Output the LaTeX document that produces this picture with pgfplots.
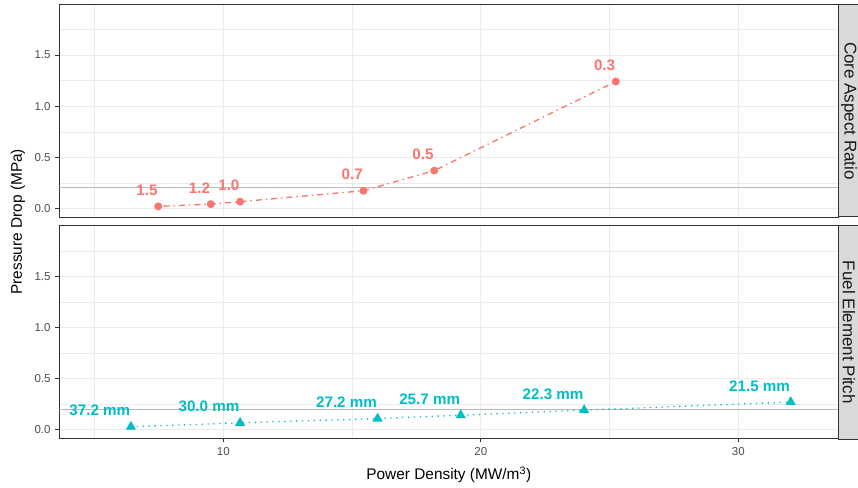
\documentclass[border=0pt]{standalone}
\usepackage{pgfplots}
\pgfplotsset{compat=1.18}
\usepackage{pgfplotstable}
\usepackage{fontspec}
\setmainfont{Liberation Sans}

\definecolor{redl}{HTML}{F8766D}
\definecolor{cyanl}{HTML}{00BFC4}
\definecolor{gray92}{HTML}{EBEBEB}
\definecolor{gray85}{HTML}{D9D9D9}
\definecolor{gray30}{HTML}{4D4D4D}
\definecolor{gray20}{HTML}{333333}
\definecolor{gray10}{HTML}{1A1A1A}
\definecolor{hline}{RGB}{185,185,185}

% power density, pressure drop, label
\pgfplotstableread[col sep=comma,row sep=\\]{
x,y,lab\\
7.47,0.020,1.5\\
9.51,0.042,1.2\\
10.65,0.066,1.0\\
15.44,0.173,0.7\\
18.19,0.370,0.5\\
25.24,1.242,0.3\\
}\coreratio
\pgfplotstableread[col sep=comma,row sep=\\]{
x,y,lab\\
6.41,0.030,37.2 mm\\
10.65,0.068,30.0 mm\\
15.99,0.110,27.2 mm\\
19.22,0.143,25.7 mm\\
24.01,0.193,22.3 mm\\
32.03,0.272,21.5 mm\\
}\pitch

\pgfplotsset{panel/.style={
  scale only axis, width=779bp, height=212.8bp, anchor=north west,
  xmin=3.63, xmax=33.88, ymin=-0.085, ymax=1.997,
  xtick={10,20,30}, minor xtick={5,15,25},
  ytick={0,0.5,1,1.5}, minor ytick={0.25,0.75,1.25,1.75},
  grid=both,
  major grid style={draw=gray92, line width=1bp},
  minor grid style={draw=gray92, line width=0.5bp},
  axis line style={draw=gray20, line width=1bp},
  tick style={draw=gray20, line width=1bp},
  tick align=outside, major tick length=3.8bp, minor tick length=0pt,
  xtick pos=bottom, ytick pos=left,
  tick label style={font=\fontsize{11.5bp}{13bp}\selectfont, text=gray30},
  /pgf/number format/assume math mode=true,
  yticklabel style={/pgf/number format/fixed, /pgf/number format/fixed zerofill,
     /pgf/number format/precision=1},
  yticklabel style={inner sep=0pt, anchor=east, xshift=-4.8bp},
  xticklabel style={inner sep=0pt, anchor=north, yshift=-4.8bp},
},
labelled/.style={
  point meta=explicit symbolic,
  nodes near coords,
  nodes near coords align={anchor=base east},
  every node near coord/.append style={inner sep=0pt, anchor=base east, yshift=11bp,
     font=\fontsize{15.2bp}{17bp}\selectfont\bfseries, text=#1},
}}

\begin{document}
\begin{tikzpicture}
\useasboundingbox (0,0) rectangle (858bp,-488bp);

\begin{axis}[panel, at={(59.3bp,-4.3bp)}, xticklabels={}, x tick style={draw=none}]
\addplot[hline, line width=1bp, forget plot] coordinates {(3.63,0.2) (33.88,0.2)};
\addplot[redl, line width=1.3bp, dash pattern=on 1.4bp off 4bp on 6bp off 4bp,
  mark=*, mark size=3.3bp, mark options={solid}, labelled=redl]
  table[x=x,y=y,meta=lab] {\coreratio};
\end{axis}

\begin{axis}[panel, at={(59.3bp,-225.7bp)}]
\addplot[hline, line width=1bp, forget plot] coordinates {(3.63,0.2) (33.88,0.2)};
\addplot[cyanl, line width=1.3bp, dash pattern=on 1.3bp off 4.6bp,
  mark=triangle*, mark size=4.6bp, mark options={solid}, labelled=cyanl]
  table[x=x,y=y,meta=lab] {\pitch};
\end{axis}

% facet strips
\filldraw[fill=gray85, draw=gray20, line width=1bp] (838.3bp,-4.3bp) rectangle (872bp,-216.7bp);
\filldraw[fill=gray85, draw=gray20, line width=1bp] (838.3bp,-225.7bp) rectangle (872bp,-439bp);
\node[rotate=-90, text=gray10, font=\fontsize{17bp}{19bp}\selectfont] at (849bp,-111bp) {Core Aspect Ratio};
\node[rotate=-90, text=gray10, font=\fontsize{17bp}{19bp}\selectfont] at (849bp,-332.3bp) {Fuel Element Pitch};

% axis titles
\node[anchor=base, font=\fontsize{15.4bp}{17bp}\selectfont] at (448.8bp,-479.3bp) {Power Density (MW/m\textsuperscript{3})};
\node[rotate=90, font=\fontsize{15.4bp}{17bp}\selectfont] at (18bp,-221.7bp) {Pressure Drop (MPa)};
\end{tikzpicture}
\end{document}
